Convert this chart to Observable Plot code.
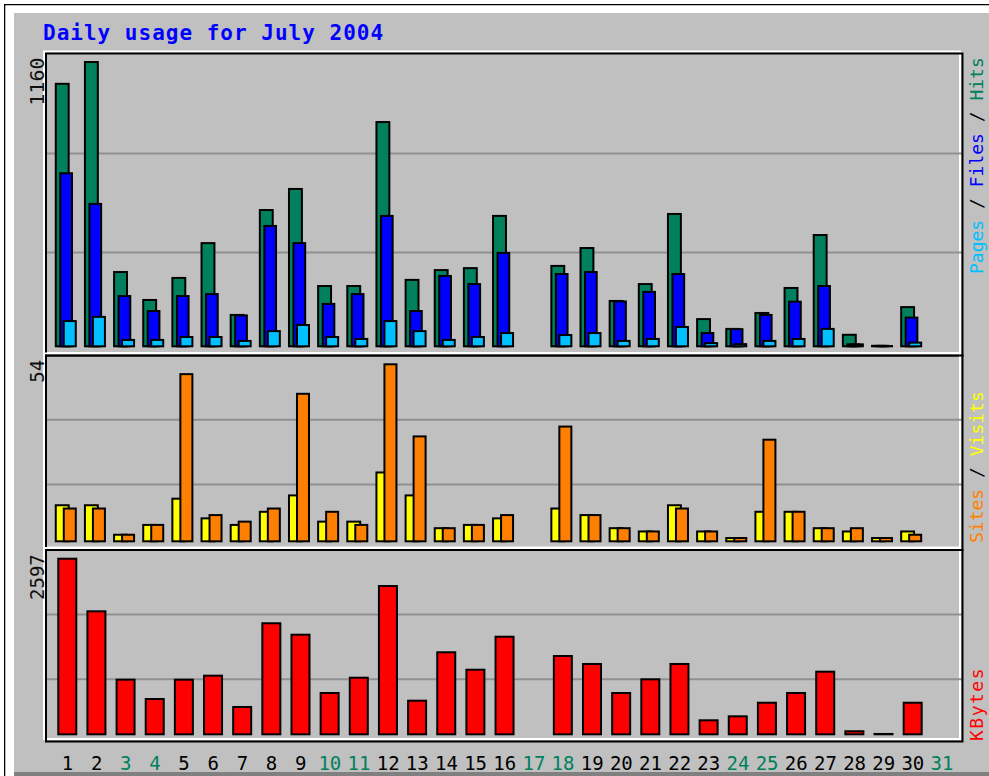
<!DOCTYPE html>
<html>
<head>
<meta charset="utf-8">
<script src="https://cdn.jsdelivr.net/npm/d3@7"></script>
<script src="https://cdn.jsdelivr.net/npm/@observablehq/plot@0.6"></script>
<style>
  html, body { margin: 0; padding: 0; background: #fff; }
  #chart { position: relative; width: 989px; height: 776px; overflow: hidden; }
  #chart svg { position: absolute; left: 0; top: 0; background: transparent !important; max-width: none !important; }
</style>
</head>
<body>
<div id="chart">
  <svg id="bg" width="989" height="776" xmlns="http://www.w3.org/2000/svg">
    <rect x="0" y="0" width="989" height="776" fill="#ffffff"/>
    <rect x="4.75" y="4.75" width="990" height="780" fill="none" stroke="#000" stroke-width="1.5"/>
    <rect x="5.5" y="5.5" width="984" height="771" fill="#ffffff"/>
    <rect x="14" y="13" width="975" height="759" fill="#c0c0c0"/>
    <rect x="14" y="772" width="975" height="4" fill="#808080"/>
    <text x="43" y="40" font-family="DejaVu Sans Mono" font-weight="bold" font-size="21" letter-spacing="1" fill="#0000ff">Daily usage for July 2004</text>
    <text transform="translate(983,274) rotate(-90)" font-family="DejaVu Sans Mono" font-size="18"><tspan fill="#00c0ff">Pages</tspan><tspan fill="#000"> / </tspan><tspan fill="#0000ff">Files</tspan><tspan fill="#000"> / </tspan><tspan fill="#00805c">Hits</tspan></text>
    <text transform="translate(983,543) rotate(-90)" font-family="DejaVu Sans Mono" font-size="18"><tspan fill="#ff8000">Sites</tspan><tspan fill="#000"> / </tspan><tspan fill="#ffff00">Visits</tspan></text>
    <text transform="translate(983,741) rotate(-90)" font-family="DejaVu Sans Mono" font-size="18" letter-spacing="1.5" fill="#ff0000">KBytes</text>
  </svg>
</div>
<script>
// ---- data (July 2004) ----
const days = [1,2,3,4,5,6,7,8,9,10,11,12,13,14,15,16,17,18,19,20,21,22,23,24,25,26,27,28,29,30,31];
const weekendDays = [3,4,10,11,17,18,24,25,31];
const hits   = [1071,1160,303,189,279,421,128,556,642,246,246,915,271,311,319,532,0,328,401,185,254,540,111,71,136,238,454,47,2,160,0];
const files  = [706,581,205,144,205,213,126,491,421,173,213,532,144,287,254,381,0,295,303,183,222,295,54,70,128,182,246,8,2,117,0];
const pages  = [103,120,26,26,38,38,22,62,87,38,30,103,62,26,38,54,0,46,54,22,30,79,13,9,22,30,71,8,1,15,0];
const visits = [11,11,2,5,13,7,5,9,14,6,6,21,14,4,5,7,0,10,8,4,3,11,3,1,9,9,4,3,1,3,0];
const sites  = [10,10,2,5,51,8,6,10,45,9,5,54,32,4,5,8,0,35,8,4,3,10,3,1,31,9,4,4,1,2,0];
const kbytes = [2597,1819,808,522,808,867,404,1642,1473,611,837,2193,497,1213,955,1443,0,1158,1040,611,813,1040,207,266,467,611,926,45,5,467,0];
// labelled maxima and grid line values
const hitsMax = 1160, sitesMax = 54, kbytesMax = 2597;
const hitsGrid = [385, 789];
const sitesGrid = [17.5, 37.2];
const kbytesGrid = [822, 1779];

const rows = days.map((day, i) => ({
  day, hits: hits[i], files: files[i], pages: pages[i],
  visits: visits[i], sites: sites[i], kbytes: kbytes[i]
}));

// ---- layout ----
const W = 989, H = 776;
const frameLeft = 45.5, frameRight = 962;
const xRange = [52.4, 956.1];
const mono = "DejaVu Sans Mono";

const COL = {
  hits: "#00805c", files: "#0000ff", pages: "#00c0ff",
  visits: "#ffff00", sites: "#ff8000", kbytes: "#ff0000", grid: "#909090"
};

function bar(key, fill, insetLeft, insetRight) {
  return Plot.barY(rows.filter(d => d[key] > 0), {
    x: "day", y1: 0, y2: key, fill, stroke: "#000", strokeWidth: 2,
    insetLeft, insetRight
  });
}

function panel({top, bottom, base, peak, max, grid, bars, labelSize = 19, extra = []}) {
  return Plot.plot({
    width: W, height: H,
    marginTop: top, marginBottom: H - bottom,
    marginLeft: frameLeft, marginRight: W - frameRight,
    x: {type: "band", domain: days, range: xRange, padding: 0, round: false, axis: null},
    y: {type: "linear", domain: [0, max], range: [base, peak], axis: null},
    marks: [
      Plot.frame({stroke: "#fff", strokeWidth: 2, insetLeft: -2, insetTop: -2, insetRight: 2.5, insetBottom: 2.5}),
      Plot.ruleY(grid, {stroke: COL.grid, strokeWidth: 2}),
      Plot.frame({stroke: "#000", strokeWidth: 2}),
      ...bars,
      Plot.text([max], {
        y: d => d, text: d => String(d), frameAnchor: "left",
        rotate: -90, textAnchor: "end", lineAnchor: "bottom",
        dx: -2.5, dy: -5, fontSize: labelSize, fontFamily: mono, fill: "#111"
      }),
      ...extra
    ]
  });
}

const chart = document.getElementById("chart");

chart.appendChild(panel({
  top: 53, bottom: 355, base: 346.3, peak: 62, max: hitsMax, grid: hitsGrid, labelSize: 20,
  bars: [
    bar("hits", COL.hits, 3.375, 12.875),
    bar("files", COL.files, 7.875, 9.575),
    bar("pages", COL.pages, 11.375, 5.775)
  ]
}));

chart.appendChild(panel({
  top: 355, bottom: 549.5, base: 541.3, peak: 364.3, max: sitesMax, grid: sitesGrid,
  bars: [
    bar("visits", COL.visits, 3.375, 12.875),
    bar("sites", COL.sites, 11.375, 5.775)
  ]
}));

chart.appendChild(panel({
  top: 549.5, bottom: 741, base: 734.3, peak: 558.7, max: kbytesMax, grid: kbytesGrid,
  bars: [
    bar("kbytes", COL.kbytes, 5.875, 5.275)
  ],
  extra: [
    Plot.text(days, {
      x: d => d, text: d => String(d), frameAnchor: "bottom", lineAnchor: "bottom",
      dy: 28, fontSize: 19, fontFamily: mono,
      fill: d => weekendDays.includes(d) ? COL.hits : "#000"
    })
  ]
}));
</script>
</body>
</html>
